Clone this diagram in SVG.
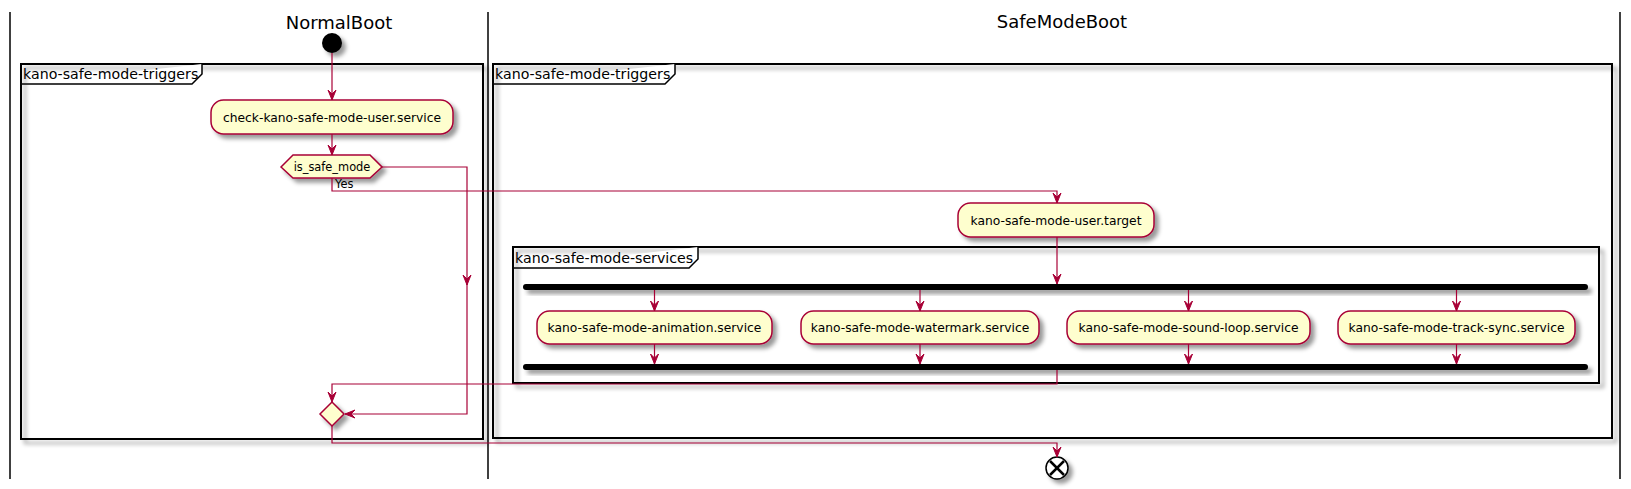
<svg xmlns="http://www.w3.org/2000/svg" width="1631" height="489" viewBox="0 0 1631 489">
<defs>
<filter id="sh" x="-1" y="-1" width="300%" height="300%">
<feGaussianBlur result="b" stdDeviation="2"/>
<feColorMatrix in="b" result="b2" type="matrix" values="0 0 0 0 0 0 0 0 0 0 0 0 0 0 0 0 0 0 .4 0"/>
<feOffset dx="4" dy="4" in="b2" result="b3"/>
<feBlend in="SourceGraphic" in2="b3" mode="normal"/>
</filter>
<marker id="ah" markerUnits="userSpaceOnUse" markerWidth="10" markerHeight="8" refX="10" refY="4" orient="auto" overflow="visible">
<path d="M0,0 L10,4 L0,8 L4,4 Z" fill="#A80036" stroke="#A80036" stroke-width="1"/>
</marker>
</defs>
<style>
.lane{stroke:#000;stroke-width:1.5;fill:none}
.title{font-family:"DejaVu Sans",sans-serif;font-size:18px;fill:#000;text-anchor:middle}
.frame{fill:none;stroke:#000;stroke-width:2}
.tab{fill:#fff;stroke:#000;stroke-width:1.5}
.ftxt{font-family:"DejaVu Sans",sans-serif;font-size:14.2px;fill:#000}
.act{fill:#FEFECE;stroke:#A80036;stroke-width:1.5}
.atxt{font-family:"DejaVu Sans",sans-serif;font-size:12.3px;fill:#000;text-anchor:middle}
.dtxt{font-family:"DejaVu Sans",sans-serif;font-size:11.4px;fill:#000}
.bar{fill:#000;stroke:none}
.conn{fill:none;stroke:#A80036;stroke-width:1.2;marker-end:url(#ah)}
</style>
<rect width="1631" height="489" fill="#fff"/>
<g id="lanes">
<line class="lane" x1="10" y1="12" x2="10" y2="479"/>
<line class="lane" x1="488" y1="12" x2="488" y2="479"/>
<line class="lane" x1="1620" y1="12" x2="1620" y2="479"/>
<text class="title" x="339" y="29">NormalBoot</text>
<text class="title" x="1062" y="28">SafeModeBoot</text>
</g>
<g id="frame-triggers-normal">
<rect class="frame" x="21" y="64" width="462" height="375" filter="url(#sh)"/>
<path class="tab" d="M21,84 L192,84 L202,74 L202,64"/>
<text class="ftxt" x="23" y="79">kano-safe-mode-triggers</text>
</g>
<g id="frame-triggers-safe">
<rect class="frame" x="493" y="64" width="1119" height="374" filter="url(#sh)"/>
<path class="tab" d="M493,84 L665,84 L675,74 L675,64"/>
<text class="ftxt" x="495" y="79">kano-safe-mode-triggers</text>
</g>
<g id="frame-services">
<rect class="frame" x="513" y="247" width="1086" height="136" filter="url(#sh)"/>
<path class="tab" d="M513,268 L689,268 L698,259 L698,247"/>
<text class="ftxt" x="515" y="263">kano-safe-mode-services</text>
</g>
<g id="start">
<circle cx="332" cy="43" r="10" fill="#000" filter="url(#sh)"/>
</g>
<g id="check-service">
<rect class="act" x="211" y="100" width="242" height="34" rx="12.5" filter="url(#sh)"/>
<text class="atxt" x="332" y="121.5">check-kano-safe-mode-user.service</text>
</g>
<g id="is-safe-mode">
<polygon class="act" points="281,167 293,155 370,155 382,167 370,178 293,178" filter="url(#sh)"/>
<text class="dtxt" x="332" y="171" text-anchor="middle">is_safe_mode</text>
</g>
<g id="user-target">
<rect class="act" x="958" y="203" width="196" height="34" rx="12.5" filter="url(#sh)"/>
<text class="atxt" x="1056" y="224.5">kano-safe-mode-user.target</text>
</g>
<g id="fork">
<rect class="bar" x="523" y="284" width="1065" height="6" rx="3" filter="url(#sh)"/>
</g>
<g id="animation-service">
<rect class="act" x="537" y="311" width="235" height="33" rx="12.5" filter="url(#sh)"/>
<text class="atxt" x="654.5" y="332">kano-safe-mode-animation.service</text>
</g>
<g id="watermark-service">
<rect class="act" x="801" y="311" width="238" height="33" rx="12.5" filter="url(#sh)"/>
<text class="atxt" x="920" y="332">kano-safe-mode-watermark.service</text>
</g>
<g id="sound-loop-service">
<rect class="act" x="1067" y="311" width="243" height="33" rx="12.5" filter="url(#sh)"/>
<text class="atxt" x="1188.5" y="332">kano-safe-mode-sound-loop.service</text>
</g>
<g id="track-sync-service">
<rect class="act" x="1338" y="311" width="237" height="33" rx="12.5" filter="url(#sh)"/>
<text class="atxt" x="1456.5" y="332">kano-safe-mode-track-sync.service</text>
</g>
<g id="join">
<rect class="bar" x="523" y="364" width="1065" height="6" rx="3" filter="url(#sh)"/>
</g>
<g id="merge">
<polygon class="act" points="332,402 344,414 332,426 320,414" filter="url(#sh)"/>
</g>
<g id="end">
<circle cx="1057" cy="468" r="11" fill="#fff" stroke="#000" stroke-width="1.5" filter="url(#sh)"/>
<line x1="1050" y1="461" x2="1064" y2="475" stroke="#000" stroke-width="2.5"/>
<line x1="1064" y1="461" x2="1050" y2="475" stroke="#000" stroke-width="2.5"/>
</g>
<g id="connectors">
<path class="conn" d="M332,53 L332,100"/>
<path class="conn" d="M332,134 L332,155"/>
<path class="conn" d="M382,167 L467,167 L467,285"/>
<path class="conn" d="M467,280 L467,414 L345,414"/>
<path class="conn" d="M332,178 L332,191 L1057,191 L1057,203"/>
<text class="dtxt" x="335" y="188">Yes</text>
<path class="conn" d="M1057,237 L1057,284"/>
<path class="conn" d="M654.5,290 L654.5,311"/>
<path class="conn" d="M920,290 L920,311"/>
<path class="conn" d="M1188.5,290 L1188.5,311"/>
<path class="conn" d="M1456.5,290 L1456.5,311"/>
<path class="conn" d="M654.5,344 L654.5,364"/>
<path class="conn" d="M920,344 L920,364"/>
<path class="conn" d="M1188.5,344 L1188.5,364"/>
<path class="conn" d="M1456.5,344 L1456.5,364"/>
<path class="conn" d="M1057,370 L1057,384 L332,384 L332,402"/>
<path class="conn" d="M332,426 L332,443 L1057,443 L1057,457"/>
</g>
</svg>
